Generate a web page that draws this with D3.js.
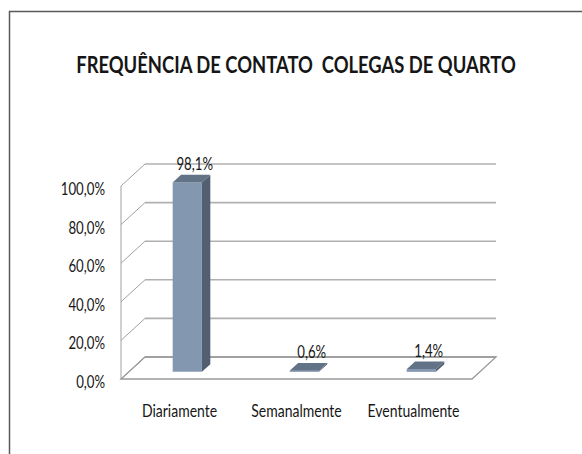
<!DOCTYPE html>
<html>
<head>
<meta charset="utf-8">
<script src="https://cdn.jsdelivr.net/npm/d3@7"></script>
<style>
  body { margin: 0; background: #fff; }
  text { font-family: Lato, "Open Sans", sans-serif; fill: #161616; white-space: pre; }
</style>
</head>
<body>
<div id="chart"></div>
<script>
"use strict"

// data
var titleText = "FREQUÊNCIA DE CONTATO  COLEGAS DE QUARTO";
var categories = ["Diariamente", "Semanalmente", "Eventualmente"];
var values = [98.1, 0.6, 1.4];
var valueLabels = ["98,1%", "0,6%", "1,4%"];
var ticks = [0, 20, 40, 60, 80, 100];
var tickLabels = ["0,0%", "20,0%", "40,0%", "60,0%", "80,0%", "100,0%"];

var W = 582, H = 454;
var depth = {dx: 24, dy: -22};   // floor depth vector
var barDepth = [0.325, 0.675];   // bar front/back as fraction of depth
var stretch = 1.27;              // text in the source is taller than it is wide

var svg = d3.select("#chart").append("svg")
    .attr("width", W)
    .attr("height", H);

// frame
svg.append("rect")
    .attr("x", 9.5).attr("y", 11.5)
    .attr("width", W + 10).attr("height", H + 10)
    .attr("fill", "none")
    .attr("stroke", "#5a5a5a")
    .attr("stroke-width", 1.5);

var x = d3.scaleBand().domain(categories).range([121, 472]);
var y = d3.scaleLinear().domain([0, 100]).range([379, 186]);

function pt(px, v, f) {
    return [px + f * depth.dx, y(v) + f * depth.dy];
}
function poly(points) {
    return "M" + points.map(function(p) { return p[0].toFixed(2) + "," + p[1].toFixed(2); }).join("L") + "Z";
}
function label(g, tx, ty, size, str, anchor, weight) {
    return g.append("text")
        .attr("transform", "translate(" + tx + "," + ty + ") scale(1," + stretch + ")")
        .attr("text-anchor", anchor || "middle")
        .attr("font-size", size)
        .attr("font-weight", weight || "normal")
        .text(str);
}

var x0 = x.range()[0], x1 = x.range()[1];

// back wall gridlines
svg.append("g").selectAll("line")
    .data(ticks)
    .enter().append("line")
    .attr("x1", function(d) { return pt(x0, d, 1)[0]; })
    .attr("y1", function(d) { return pt(x0, d, 1)[1]; })
    .attr("x2", function(d) { return pt(x1, d, 1)[0]; })
    .attr("y2", function(d) { return pt(x1, d, 1)[1]; })
    .attr("stroke", function(d) { return d === 0 ? "#9a9a9a" : "#b0b0b0"; })
    .attr("stroke-width", 1.6);

// left wall diagonals
svg.append("g").selectAll("line")
    .data(ticks)
    .enter().append("line")
    .attr("x1", function(d) { return pt(x0, d, 0)[0]; })
    .attr("y1", function(d) { return pt(x0, d, 0)[1]; })
    .attr("x2", function(d) { return pt(x0, d, 1)[0]; })
    .attr("y2", function(d) { return pt(x0, d, 1)[1]; })
    .attr("stroke", "#a0a0a0")
    .attr("stroke-width", 1);

// left wall front edge
svg.append("line")
    .attr("x1", x0).attr("x2", x0)
    .attr("y1", y(100)).attr("y2", y(0))
    .attr("stroke", "#a0a0a0").attr("stroke-width", 1);

// floor
svg.append("path")
    .attr("d", poly([pt(x0, 0, 0), pt(x1, 0, 0), pt(x1, 0, 1), pt(x0, 0, 1)]))
    .attr("fill", "none")
    .attr("stroke", "#9a9a9a")
    .attr("stroke-width", 1.3);

// bars
var bw = x.bandwidth() * 0.25;
var bars = svg.append("g").selectAll("g")
    .data(values)
    .enter().append("g");

function barLeft(i) { return x(categories[i]) + (x.bandwidth() - bw) / 2; }

bars.append("path") // side
    .attr("d", function(d, i) {
        var l = barLeft(i) + bw;
        return poly([pt(l, 0, barDepth[0]), pt(l, 0, barDepth[1]), pt(l, d, barDepth[1]), pt(l, d, barDepth[0])]);
    })
    .attr("fill", "#525f70");
bars.append("path") // front
    .attr("d", function(d, i) {
        var l = barLeft(i);
        return poly([pt(l, 0, barDepth[0]), pt(l + bw, 0, barDepth[0]), pt(l + bw, d, barDepth[0]), pt(l, d, barDepth[0])]);
    })
    .attr("fill", "#8497b0");
bars.append("path") // top
    .attr("d", function(d, i) {
        var l = barLeft(i);
        return poly([pt(l, d, barDepth[0]), pt(l + bw, d, barDepth[0]), pt(l + bw, d, barDepth[1]), pt(l, d, barDepth[1])]);
    })
    .attr("fill", "#627287");

// value labels
var vl = svg.append("g");
values.forEach(function(d, i) {
    var p = pt(barLeft(i) + bw / 2, d, barDepth[1]);
    label(vl, p[0] - 1, p[1] - 4.5, 13.2, valueLabels[i]);
});

// y tick labels
var yl = svg.append("g");
ticks.forEach(function(d, i) {
    label(yl, 105, y(d) + 9, 13.2, tickLabels[i], "end");
});

// category labels
var xl = svg.append("g");
categories.forEach(function(c) {
    label(xl, x(c) + x.bandwidth() / 2, 416.5, 14, c);
});

// title
label(svg, 296, 73.3, 18.4, titleText, "middle", "bold");
</script>
</body>
</html>
